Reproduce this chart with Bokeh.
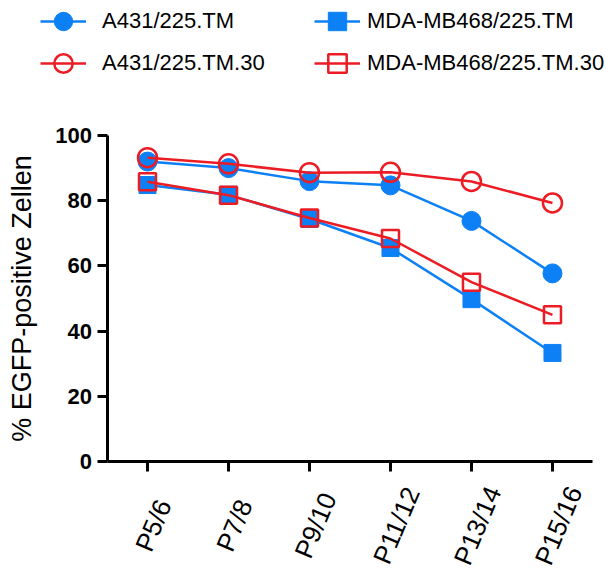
import math
from bokeh.plotting import figure
from bokeh.models import Range1d, FixedTicker, Legend, LegendItem, ColumnDataSource
from bokeh.core.properties import value
from bokeh.embed import file_html
from bokeh.resources import INLINE

passages = ["P5/6", "P7/8", "P9/10", "P11/12", "P13/14", "P15/16"]
a431_tm = [92.0, 90.0, 86.0, 84.7, 73.8, 57.7]
a431_tm30 = [93.2, 91.3, 88.6, 88.7, 85.9, 79.3]
mda_tm = [84.8, 81.8, 74.4, 65.5, 49.8, 33.3]
mda_tm30 = [85.8, 81.7, 74.7, 68.4, 55.0, 45.0]
y_ticks = [0, 20, 40, 60, 80, 100]
y_axis_bounds = (0, 100)

x_idx = list(range(len(passages)))          # category slots 0..5
x_axis_bounds = (-0.5, len(passages) - 0.5)

BLUE = "#0d80f5"
RED = "#ec1c24"
FONT = "Liberation Sans"

# the frame covers the whole canvas; axes are drawn at fixed locations inside it
p = figure(width=606, height=576, x_range=Range1d(-1.815, 5.667), y_range=Range1d(-35.28, 141.41),
           output_backend="svg", toolbar_location=None,
           min_border_left=0, min_border_right=0, min_border_top=0, min_border_bottom=0)
p.outline_line_color = None
p.grid.grid_line_color = None

# series
r_l1 = p.line(x_idx, a431_tm, line_color=BLUE, line_width=2.5)
r_m1 = p.scatter(x_idx, a431_tm, marker="circle", size=19, fill_color=BLUE, line_color=BLUE)
r_l3 = p.line(x_idx, mda_tm, line_color=BLUE, line_width=2.5)
r_m3 = p.scatter(x_idx, mda_tm, marker="square", size=17, fill_color=BLUE, line_color=BLUE)
r_l2 = p.line(x_idx, a431_tm30, line_color=RED, line_width=2.5)
r_m2 = p.scatter(x_idx, a431_tm30, marker="circle", size=19, fill_color=None, line_color=RED, line_width=2.5)
r_l4 = p.line(x_idx, mda_tm30, line_color=RED, line_width=2.5)
r_m4 = p.scatter(x_idx, mda_tm30, marker="square", size=17, fill_color=None, line_color=RED, line_width=2.5)

# axes
for ax in (p.xaxis[0], p.yaxis[0]):
    ax.axis_line_width = 3
    ax.axis_line_color = "black"
    ax.major_tick_line_width = 3
    ax.major_tick_line_color = "black"
    ax.major_tick_out = 10
    ax.major_tick_in = 0
    ax.minor_tick_line_color = None
    ax.major_label_text_color = "black"
    ax.major_label_text_font = FONT

p.yaxis.fixed_location = x_axis_bounds[0]
p.yaxis.bounds = y_axis_bounds
p.yaxis.ticker = FixedTicker(ticks=y_ticks)
p.yaxis.major_label_text_font_style = "bold"
p.yaxis.major_label_text_font_size = "22px"
p.yaxis.major_label_standoff = 5
p.yaxis.axis_label = "% EGFP-positive Zellen"
p.yaxis.axis_label_text_font = FONT
p.yaxis.axis_label_text_font_style = "normal"
p.yaxis.axis_label_text_font_size = "27px"
p.yaxis.axis_label_text_color = "black"
p.yaxis.axis_label_standoff = 16

p.xaxis.fixed_location = y_axis_bounds[0]
p.xaxis.bounds = x_axis_bounds
p.xaxis.ticker = FixedTicker(ticks=x_idx)
p.xaxis.major_label_overrides = {i: "" for i in x_idx}
p.xaxis.major_label_standoff = 0

# rotated category labels under each tick
lab_src = ColumnDataSource(dict(x=x_idx, y=[y_axis_bounds[0]] * len(x_idx), t=passages))
p.text(x="x", y="y", text="t", source=lab_src, angle=math.radians(67),
       text_align="center", text_baseline="middle", x_offset=6, y_offset=64,
       text_font=value(FONT), text_font_size="26px", text_color="black")

# legends (four single-item legends at the top)
specs = [
    ("A431/225.TM", [r_l1, r_m1], 40, 532, 16),
    ("A431/225.TM.30", [r_l2, r_m2], 40, 490, 16),
    ("MDA-MB468/225.TM", [r_l3, r_m3], 314, 532, 7),
    ("MDA-MB468/225.TM.30", [r_l4, r_m4], 314, 490, 7),
]
for label, rends, vx, vy, standoff in specs:
    lg = Legend(items=[LegendItem(label=label, renderers=rends)], location=(vx, vy),
                border_line_color=None, background_fill_alpha=0, padding=0, margin=0,
                glyph_width=46, glyph_height=46, label_standoff=standoff,
                label_text_font=FONT, label_text_font_size="22px", label_text_color="black")
    p.add_layout(lg, "center")

open("out.html", "w").write(file_html(p, INLINE))
